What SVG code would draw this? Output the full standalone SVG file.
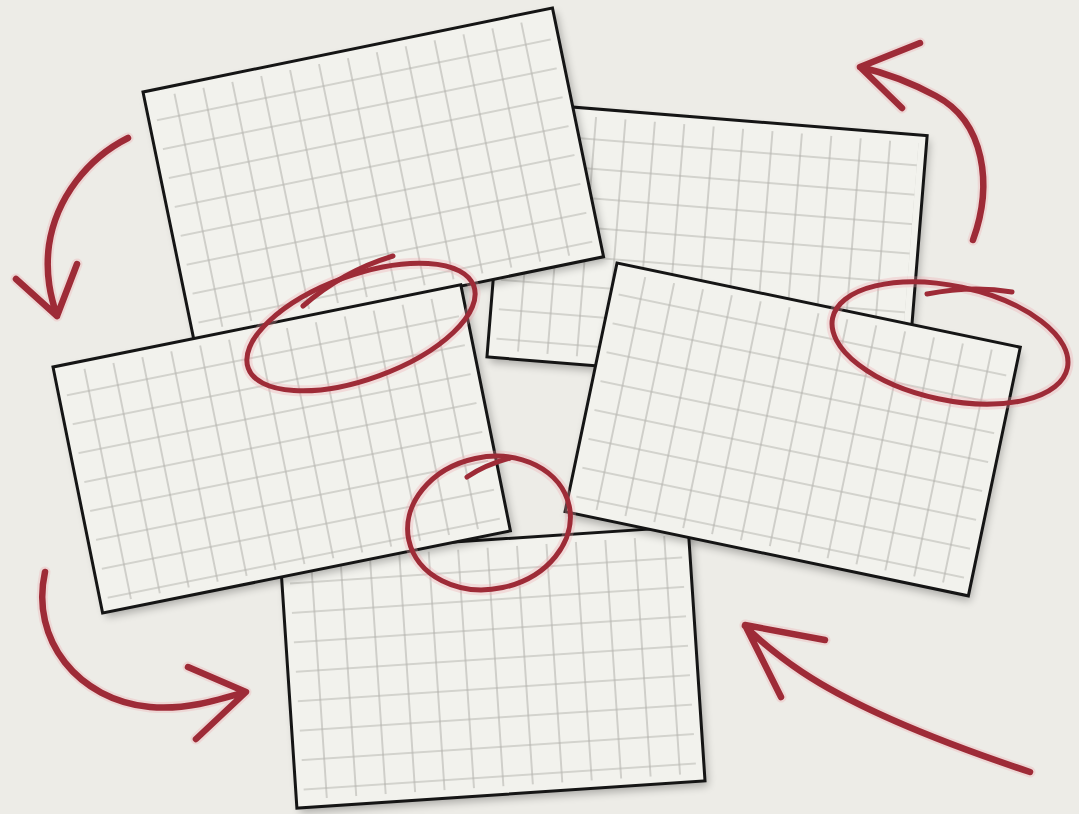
<svg xmlns="http://www.w3.org/2000/svg" xmlns:xlink="http://www.w3.org/1999/xlink" width="1079" height="814" viewBox="0 0 1079 814">
  <style>
    .paper { fill: #f2f2ed; }
    .edge { fill: none; stroke: #151515; stroke-width: 3; stroke-linejoin: miter; }
    .halo { fill: none; stroke: #f0a6ad; stroke-width: 11; stroke-linecap: round; stroke-linejoin: round; opacity: 0.3; }
    .ink { fill: none; stroke: #9e2b37; stroke-width: 6.5; stroke-linecap: round; stroke-linejoin: round; }
    .inkthin { fill: none; stroke: #9e2b37; stroke-width: 5; stroke-linecap: round; stroke-linejoin: round; }
  </style>
  <defs>
    <pattern id="grid" patternUnits="userSpaceOnUse" width="29.5" height="29.5">
      <path d="M1 0 V29.5 M0 1 H29.5" stroke="#b4b3ae" stroke-width="1.1" fill="none"/>
    </pattern>
    <filter id="shadow" x="-10%" y="-10%" width="125%" height="130%">
      <feGaussianBlur in="SourceAlpha" stdDeviation="4"/>
      <feOffset dx="3" dy="5" result="b"/>
      <feComponentTransfer><feFuncA type="linear" slope="0.28"/></feComponentTransfer>
      <feMerge><feMergeNode/><feMergeNode in="SourceGraphic"/></feMerge>
    </filter>
    <path id="arr1" d="M128,138 C88,158 56,198 49,245 C45,275 51,298 57,316 M16,279 L57,316 L77,264"/>
    <path id="arr2" d="M973,240 C993,185 985,122 936,96 C910,82 886,73 860,67 M920,43 L860,67 L902,108"/>
    <path id="arr3" d="M45,572 C30,640 78,700 150,707 C185,710 215,701 245,692 M188,667 L246,692 L196,739"/>
    <path id="arr4" d="M1030,772 C952,746 862,712 802,672 C777,655 760,641 745,626 M825,640 L745,625 L781,697"/>
    <ellipse id="ov1" cx="361" cy="327" rx="120" ry="52" transform="rotate(-20 361 327)"/>
    <path id="tail1" d="M303,306 Q343,271 393,256"/>
    <ellipse id="ov2" cx="950" cy="343" rx="120" ry="57" transform="rotate(12 950 343)"/>
    <path id="tail2" d="M927,294 Q972,285 1012,292"/>
    <ellipse id="ov3" cx="489" cy="523" rx="82" ry="66" transform="rotate(-12 489 523)"/>
    <path id="tail3" d="M467,477 Q485,465 510,458"/>
  </defs>

  <rect width="1079" height="814" fill="#edece7"/>

  <g id="card-b" transform="translate(507.5,101.8) rotate(4.6)">
    <rect class="paper" width="421" height="256" filter="url(#shadow)"/>
    <rect x="8" y="8" width="405" height="240" fill="url(#grid)"/>
    <rect class="edge" width="421" height="256"/>
  </g>

  <g id="card-a" transform="translate(143,92) rotate(-11.6)">
    <rect class="paper" width="418" height="254" filter="url(#shadow)"/>
    <rect x="8" y="8" width="402" height="238" fill="url(#grid)"/>
    <rect class="edge" width="418" height="254"/>
  </g>

  <g id="card-e" transform="translate(280,553.6) rotate(-3.8)">
    <rect class="paper" width="409" height="255" filter="url(#shadow)"/>
    <rect x="8" y="8" width="393" height="239" fill="url(#grid)"/>
    <rect class="edge" width="409" height="255"/>
  </g>

  <g id="card-d" transform="translate(617,263) rotate(11.8)">
    <rect class="paper" width="412" height="254" filter="url(#shadow)"/>
    <rect x="8" y="8" width="396" height="238" fill="url(#grid)"/>
    <rect class="edge" width="412" height="254"/>
  </g>

  <g id="card-c" transform="translate(53,367) rotate(-11.4)">
    <rect class="paper" width="416" height="251" filter="url(#shadow)"/>
    <rect x="8" y="8" width="400" height="235" fill="url(#grid)"/>
    <rect class="edge" width="416" height="251"/>
  </g>

  <g id="connectors">
    <use xlink:href="#arr1" class="halo"/><use xlink:href="#arr1" class="ink"/>
    <use xlink:href="#arr2" class="halo"/><use xlink:href="#arr2" class="ink"/>
    <use xlink:href="#arr3" class="halo"/><use xlink:href="#arr3" class="ink"/>
    <use xlink:href="#arr4" class="halo"/><use xlink:href="#arr4" class="ink"/>
  </g>

  <g id="highlights">
    <use xlink:href="#ov1" class="halo"/><use xlink:href="#ov1" class="inkthin"/>
    <use xlink:href="#tail1" class="inkthin"/>
    <use xlink:href="#ov2" class="halo"/><use xlink:href="#ov2" class="inkthin"/>
    <use xlink:href="#tail2" class="inkthin"/>
    <use xlink:href="#ov3" class="halo"/><use xlink:href="#ov3" class="inkthin"/>
    <use xlink:href="#tail3" class="inkthin"/>
  </g>
</svg>
